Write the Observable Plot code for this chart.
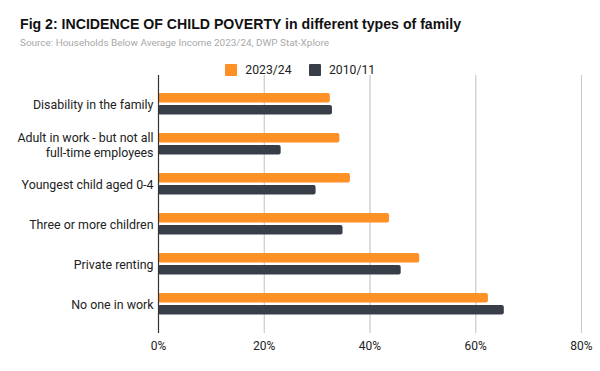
<!DOCTYPE html>
<html>
<head>
<meta charset="utf-8">
<script src="https://cdn.jsdelivr.net/npm/d3@7"></script>
<script src="https://cdn.jsdelivr.net/npm/@observablehq/plot@0.6"></script>
<style>
  body { margin: 0; background: #fff; font-family: Roboto, sans-serif; }
  #wrap { position: relative; width: 600px; height: 371px; overflow: hidden; }
  #title { position: absolute; left: 20px; top: 17px; font-family: "Liberation Sans", Arial, sans-serif; font-size: 14.4px; line-height: 14.4px; font-weight: 700; color: #111; white-space: nowrap; transform-origin: 0 0; }
  #sub { position: absolute; left: 20px; top: 38px; font-size: 9.3px; line-height: 9.3px; color: #a8a8a8; white-space: nowrap; transform-origin: 0 0; }
  #legend { position: absolute; left: 0; width: 600px; top: 64px; height: 12px; line-height: 12px; text-align: center; font-size: 12.2px; color: #222; white-space: nowrap; }
  #legend span.item { display: inline-flex; align-items: center; margin: 0 8.5px; height: 12px; }
  #legend span.sw { display: inline-block; width: 12px; height: 12px; margin-right: 8.5px; border-radius: 1px; }
  #chart { position: absolute; left: 0; top: 75px; }
</style>
</head>
<body>
<div id="wrap">
  <div id="title">Fig 2: INCIDENCE OF CHILD POVERTY in different types of family</div>
  <div id="sub">Source: Households Below Average Income 2023/24, DWP Stat-Xplore</div>
  <div id="legend"></div>
  <div id="chart"></div>
</div>
<script>
const categories = [
  "Disability in the family",
  "Adult in work - but not all\nfull-time employees",
  "Youngest child aged 0-4",
  "Three or more children",
  "Private renting",
  "No one in work"
];
const series = ["2023/24", "2010/11"];
const values2023 = [32.5, 34.3, 36.3, 43.7, 49.4, 62.4];
const values2010 = [32.9, 23.2, 29.8, 34.9, 45.9, 65.4];
const xTicks = [0, 20, 40, 60, 80];
const colors = ["#FF9026", "#383E48"];

// fit header text widths to the reference
function fitWidth(id, target) {
  const el = document.getElementById(id);
  const w = el.getBoundingClientRect().width;
  if (w > 0) el.style.transform = `scaleX(${target / w})`;
}
fitWidth("title", 441);
fitWidth("sub", 309);

const legend = document.getElementById("legend");
series.forEach((s, i) => {
  const item = document.createElement("span");
  item.className = "item";
  item.innerHTML = `<span class="sw" style="background:${colors[i]}"></span>${s}`;
  legend.appendChild(item);
});

const d2023 = categories.map((c, i) => ({category: c, value: values2023[i]}));
const d2010 = categories.map((c, i) => ({category: c, value: values2010[i]}));

const plot = Plot.plot({
  width: 600,
  height: 296,
  marginTop: 0,
  marginBottom: 38,
  marginLeft: 158,
  marginRight: 19,
  style: { fontFamily: "Roboto, sans-serif", fontSize: "12px", color: "#222", background: "transparent" },
  x: {
    domain: [0, 80],
    ticks: xTicks,
    tickFormat: d => d + "%",
    tickSize: 0,
    tickPadding: 8,
    grid: true,
    label: null
  },
  y: {
    domain: categories,
    paddingInner: 0,
    paddingOuter: 0.177,
    axis: null
  },
  marks: [
    Plot.ruleX(xTicks.slice(1), {stroke: "#c8c8c8", strokeWidth: 1, strokeOpacity: 1}),
    Plot.barX(d2023, {y: "category", x: "value", fill: colors[0], insetTop: 9, insetBottom: 21.6, rx: 2}),
    Plot.barX(d2010, {y: "category", x: "value", fill: colors[1], insetTop: 21, insetBottom: 9.6, rx: 2}),
    Plot.ruleX([0], {stroke: "#333", strokeWidth: 1.2}),
    Plot.text(categories, {y: d => d, text: d => d, frameAnchor: "left", textAnchor: "end", dx: -5, lineHeight: 1.25, fill: "#222", fontSize: 12.4})
  ]
});
document.getElementById("chart").appendChild(plot);
</script>
</body>
</html>
